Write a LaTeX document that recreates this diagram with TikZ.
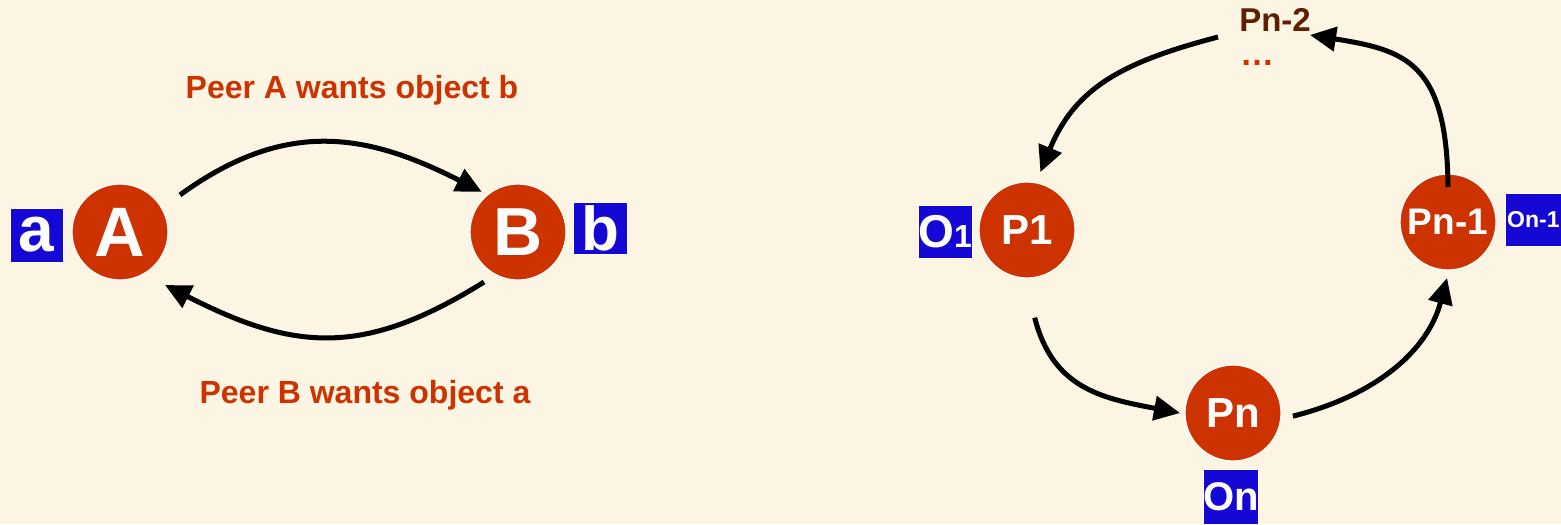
\documentclass[tikz,border=0pt]{standalone}
\usepackage{fontspec}
\setmainfont{Liberation Sans}
\usetikzlibrary{arrows.meta,calc}
\definecolor{bgcol}{HTML}{FCF5E3}
\definecolor{peerred}{HTML}{CC3300}
\definecolor{objblue}{HTML}{1608D4}
\definecolor{peerbrown}{HTML}{5E1F00}
\begin{document}
\begin{tikzpicture}[x=0.5pt,y=0.5pt,
  peer/.style={circle,fill=peerred,draw=white,line width=0.6pt,minimum size=48pt,inner sep=0pt,
    text=white,font=\bfseries},
  obj/.style={rectangle,fill=objblue,draw=white,line width=0.4pt,inner sep=0pt,text=white,font=\bfseries},
  caption/.style={text=peerred,font=\bfseries\fontsize{16}{19}\selectfont},
  link/.style={line width=2.5pt,-{Triangle[length=13pt,width=12pt]}}]
\fill[bgcol] (0,0) rectangle (1561,-524);
\useasboundingbox (0,0) rectangle (1561,-524);

% two-peer exchange
\node[peer,font=\bfseries\fontsize{35}{40}\selectfont] (A) at (120,-232) {A};
\node[peer,font=\bfseries\fontsize{34}{40}\selectfont] (B) at (518,-232) {B};
\node[obj,minimum width=26.5pt,minimum height=27pt,font=\bfseries\fontsize{32}{36}\selectfont] (oa) at (36.5,-235) {a};
\node[obj,minimum width=27pt,minimum height=26pt,font=\bfseries\fontsize{31}{36}\selectfont] (ob) at (600,-228) {b};
\node[caption] (capA) at (352,-90) {Peer A wants object b};
\node[caption] (capB) at (365,-395) {Peer B wants object a};

\draw[link] ($(A)+(31.7:70.5)$) to[out=36,in=153,looseness=1.1] ($(B)+(132:54)$);
\draw[link] ($(B)+(235.8:60.5)$) to[out=-148,in=-27,looseness=1.15] ($(A)+(-49.7:69.5)$);

% ring of n peers
\node[peer,font=\bfseries\fontsize{21}{25}\selectfont] (p1) at (1027,-230) {P1};
\node[peer,font=\bfseries\fontsize{18.5}{22}\selectfont] (pm) at (1448,-222) {Pn-1};
\node[peer,font=\bfseries\fontsize{21}{25}\selectfont] (pn) at (1233,-413) {Pn};
\node[text=peerbrown,font=\bfseries\fontsize{16.5}{20}\selectfont] (p2) at (1275,-20) {Pn-2};
\node[text=peerred,font=\bfseries\fontsize{17}{20}\selectfont] (dots) at (1257,-63) {\dots};

\node[obj,minimum width=27pt,minimum height=26.5pt] (o1) at (945,-231.5)
  {\fontsize{23}{26}\selectfont O\fontsize{16}{20}\selectfont 1};
\node[obj,minimum width=28pt,minimum height=26.5pt,anchor=west,font=\bfseries\fontsize{11.5}{14}\selectfont,
  inner xsep=0pt] (om) at (1505,-219.5) {On-1};
\node[obj,minimum width=27pt,minimum height=27.5pt,font=\bfseries\fontsize{20}{24}\selectfont] (on) at (1231,-496.5) {On};

\draw[link] ($(p2)+(-57,-17)$) .. controls +(-95,-25) and +(35,85) .. ($(p1)+(77:59.4)$);
\draw[link] ($(pm)+(90:35)$) .. controls +(-1,125) and +(95,-15) .. ($(p2)+(35,-15)$);
\draw[link] ($(p1)+(-85:88)$) .. controls +(18,-70) and +(-80,15) .. ($(pn)+(180:53)$);
\draw[link] ($(pn)+(-3:60)$) .. controls +(80,20) and +(-20,-75) .. ($(pm)+(-91:56)$);
\end{tikzpicture}
\end{document}
